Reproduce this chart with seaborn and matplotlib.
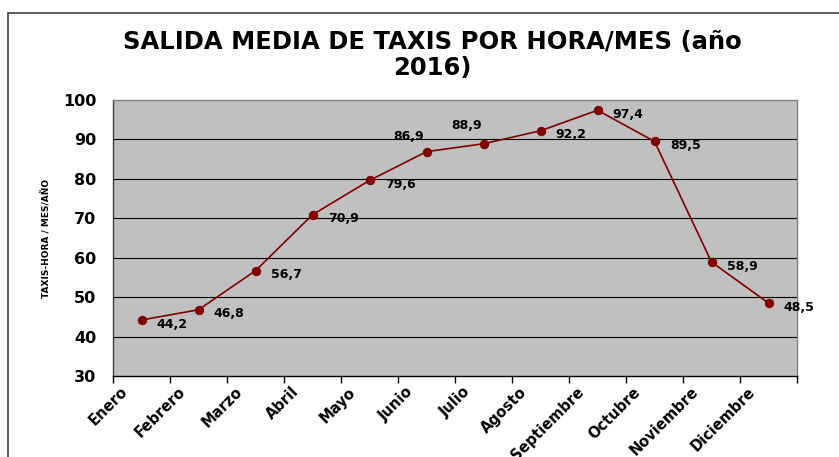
import numpy as np
import pandas as pd
import seaborn as sns
import matplotlib.pyplot as plt
from matplotlib.patches import Rectangle
from matplotlib.transforms import ScaledTranslation

meses = ["Enero", "Febrero", "Marzo", "Abril", "Mayo", "Junio", "Julio",
         "Agosto", "Septiembre", "Octubre", "Noviembre", "Diciembre"]
taxis = [44.2, 46.8, 56.7, 70.9, 79.6, 86.9, 88.9, 92.2, 97.4, 89.5, 58.9, 48.5]
etiquetas = ["44,2", "46,8", "56,7", "70,9", "79,6", "86,9", "88,9",
             "92,2", "97,4", "89,5", "58,9", "48,5"]

df = pd.DataFrame({"mes": meses, "taxis": taxis})

sns.set_style("white")
plt.rcParams['font.family'] = ['DejaVu Sans']
plt.rcParams['text.color'] = 'black'
plt.rcParams['xtick.color'] = 'black'
plt.rcParams['ytick.color'] = 'black'
plt.rcParams['axes.labelcolor'] = 'black'

fig = plt.figure(figsize=(8.39, 4.57), dpi=100)
ax = fig.add_axes([113/839, 1-376/457, (797-113)/839, (376-100)/457])
ax.set_facecolor("#C0C0C0")

# marco del grafico (se sale de la imagen por la derecha y abajo)
fig.patches.append(Rectangle((8/839, -0.1), 1.2, 1 - 13/457 + 0.1,
                             transform=fig.transFigure, fill=False,
                             edgecolor="#404040", linewidth=1.2))

x = np.arange(len(meses))
sns.lineplot(x=x, y=df["taxis"], ax=ax, color="#800000", linewidth=1.2,
             marker="o", markersize=6, markeredgecolor="#800000")

ax.set_xlim(-0.5, 11.5)
ax.set_ylim(30, 100)
ax.set_yticks(range(30, 101, 10))
for v in range(40, 100, 10):
    ax.axhline(v, color="black", linewidth=0.8, zorder=0.5)

ax.set_xticks(np.arange(-0.5, 12, 1), minor=True)
ax.tick_params(axis="x", which="major", length=0, pad=14)
ax.tick_params(axis="x", which="minor", length=5, width=1, color="black",
               direction="out")
ax.tick_params(axis="y", length=5, width=1, color="black", direction="out",
               labelsize=11.5, pad=7)
ax.tick_params(axis="x", bottom=True, which="both")
for lab in ax.get_yticklabels():
    lab.set_fontweight("bold")

ax.set_xticks(x)
ax.set_xticklabels(meses, rotation=45, ha="right", va="center",
                   rotation_mode="anchor", fontsize=10.5, fontweight="bold")
# etiquetas del eje x un poco a la izquierda y arriba, como en Excel
desplaza = ScaledTranslation(-16/100, 6/100, fig.dpi_scale_trans)
for lab in ax.get_xticklabels():
    lab.set_transform(lab.get_transform() + desplaza)

for s in ["top", "right"]:
    ax.spines[s].set_color("#808080")
ax.spines["left"].set_color("#404040")
ax.spines["bottom"].set_color("black")
for s in ax.spines.values():
    s.set_linewidth(1)

ax.set_xlabel("")
ax.set_ylabel("TAXIS-HORA / MES/AÑO", fontsize=6.5, fontweight="bold",
              labelpad=8)

desp = [(11, -3)] * 12
desp[5] = (-13, 11)
desp[6] = (-12, 13)
for i, (v, t) in enumerate(zip(taxis, etiquetas)):
    dx, dy = desp[i]
    ha = "left" if dx > 0 else "center"
    ax.annotate(t, (i, v), xytext=(dx, dy), textcoords="offset points",
                ha=ha, va="center", fontsize=9, fontweight="bold",
                color="black", annotation_clip=False)

fig.text(432/839, 1-55/457, "SALIDA MEDIA DE TAXIS POR HORA/MES (año\n2016)",
         ha="center", va="center", fontsize=17.5, fontweight="bold",
         linespacing=1.1, color="black")

fig.savefig("out.png", dpi=100)
